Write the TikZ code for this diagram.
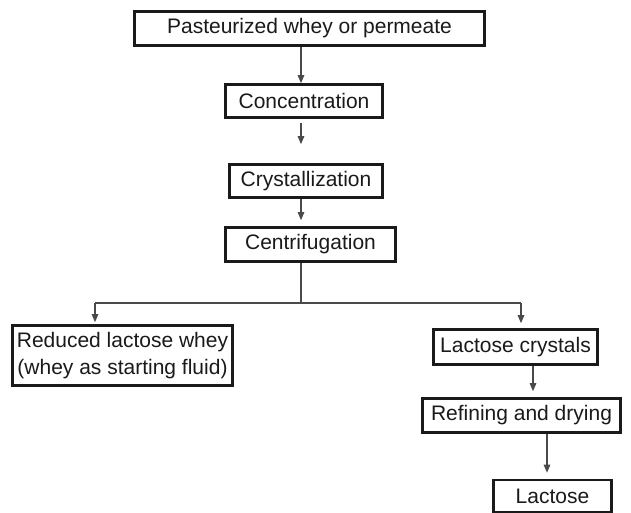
\documentclass[tikz,border=0pt]{standalone}
\usepackage{fontspec}
\setmainfont{Liberation Sans}
\usetikzlibrary{arrows.meta}
\definecolor{ink}{HTML}{1A1A1A}
\definecolor{wire}{HTML}{4A4A4A}
\tikzset{
  box/.style={draw=ink, line width=2.6pt, fill=white, inner sep=0pt, align=center,
    text=ink, font=\fontsize{21}{27}\selectfont},
  arr/.style={draw=wire, line width=1.1pt, -{Triangle[width=6.5pt,length=8pt]}},
  wire/.style={draw=wire, line width=1.1pt}
}
\begin{document}
\begin{tikzpicture}[x=1pt,y=-1pt]
\useasboundingbox (0,0) rectangle (631,512);

% process steps
\node[box, minimum width=350, minimum height=34] (b1) at (309.5,28.5) {Pasteurized whey or permeate};
\node[box, minimum width=157, minimum height=33] (b2) at (304,101) {Concentration};
\node[box, minimum width=153, minimum height=33] (b3) at (306,181) {Crystallization};
\node[box, minimum width=170, minimum height=34] (b4) at (310.5,244.5) {Centrifugation};
\node[box, minimum width=220, minimum height=60] (b5) at (122.5,355.5) {Reduced lactose whey\\(whey as starting fluid)};
\node[box, minimum width=164, minimum height=35] (b6) at (515.5,347) {Lactose crystals};
\node[box, minimum width=198, minimum height=34] (b7) at (521.5,415.5) {Refining and drying};
\node[box, minimum width=118, minimum height=32] (b8) at (552.5,496) {Lactose};

% guide lines for the connectors
\coordinate (sp) at (301,0);
\coordinate (split) at (301,303);
\coordinate (lx) at (95,0);
\coordinate (rx) at (521,0);
\coordinate (cx) at (533,0);
\coordinate (dx) at (547,0);

% main line
\draw[arr] (b1.south -| sp) -- (b2.north -| sp);
\draw[arr] ([yshift=-4pt]b2.south -| sp) -- ([yshift=19pt]b3.north -| sp);
\draw[arr, shorten >=6pt] (b3.south -| sp) -- (b4.north -| sp);
\draw[wire] (b4.south -| sp) -- (split);
\draw[wire] (split -| lx) -- (split -| rx);
\draw[arr, shorten >=2pt] (split -| lx) -- (b5.north -| lx);
\draw[arr, shorten >=5pt] (split -| rx) -- (b6.north -| rx);
\draw[arr, shorten >=6pt] (b6.south -| cx) -- (b7.north -| cx);
\draw[arr, shorten >=6pt] (b7.south -| dx) -- (b8.north -| dx);
\end{tikzpicture}
\end{document}
